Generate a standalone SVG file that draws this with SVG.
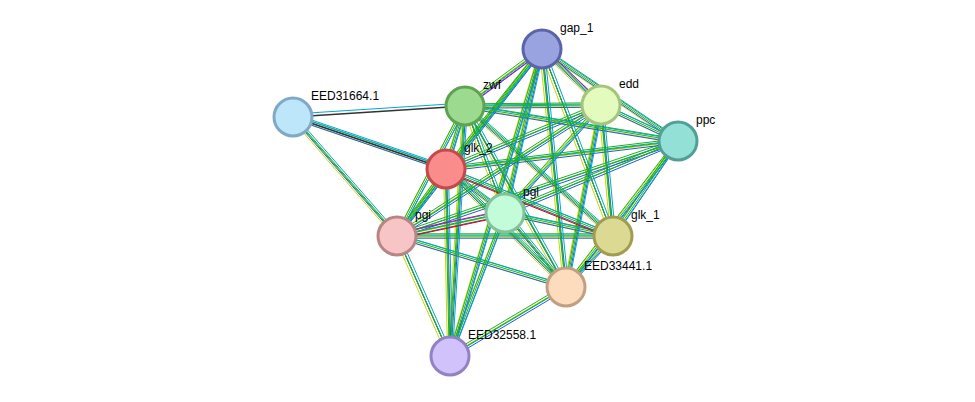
<svg xmlns="http://www.w3.org/2000/svg" xmlns:xlink="http://www.w3.org/1999/xlink" width="975" height="402" viewBox="0 0 975 402">
<style>
.n{stroke-width:3}
.t{font-family:"Liberation Sans",Arial,sans-serif;font-size:12px;fill:#000}
#E path{fill:none}
</style>
<rect width="975" height="402" fill="#fff"/>
<defs>
<g id="E">
<path d="M542 49L465 106M542 49L601 105M542 49L446 169M542 49L505 213M542 49L397 236M542 49L613 236M542 49L566 287M542 49L450 356M542 49L678 141"/>
<path d="M601 105L465 106M601 105L678 141M601 105L446 169M601 105L505 213M601 105L397 236M601 105L613 236M601 105L566 287"/>
<path d="M465 106L446 169M465 106L505 213M465 106L397 236M465 106L613 236M465 106L566 287M465 106L450 356M465 106L678 141"/>
<path d="M678 141L446 169M678 141L505 213M678 141L613 236M678 141L566 287M678 141L397 236"/>
<path d="M293 117L446 169M293 117L397 236"/>
<path d="M446 169L505 213M446 169L397 236M446 169L613 236M446 169L566 287M446 169L450 356"/>
<path d="M505 213L397 236M505 213L613 236M505 213L566 287M505 213L450 356"/>
<path d="M397 236L613 236M397 236L566 287M397 236L450 356M613 236L566 287M566 287L450 356"/>
</g>
</defs>
<g id="connectors" stroke-width="1">
<use xlink:href="#E" stroke="#c8d800" transform="translate(-2.4,1)"/>
<use xlink:href="#E" stroke="#20b020" transform="translate(-0.8,-2.2)"/>
<use xlink:href="#E" stroke="#1e5adc" transform="translate(0.8,2.2)"/>
<use xlink:href="#E" stroke="#00a8c8" transform="translate(2.4,-1)"/>
<use xlink:href="#E" stroke="#20b020" transform="translate(0,0)"/>
<path d="M293 117L465 106" stroke="#333" fill="none" stroke-width="1.4"/>
<path d="M293 114L465 103" stroke="#00a8d0" fill="none" stroke-width="1.2"/>
<path d="M293 117L446 169" stroke="#333" fill="none" stroke-width="1.4"/>
<path d="M294 114L447 166" stroke="#00a8d0" fill="none"/>
<path d="M542 49L601 105M542 49L465 106" stroke="#c800c8" fill="none" transform="translate(3,0)"/>
<path d="M446 169L613 236M397 236L505 213" stroke="#e00000" fill="none" transform="translate(0,3)"/>
<path d="M397 236L505 213" stroke="#c800c8" fill="none" transform="translate(0,-3)"/>
</g>
<g id="gap_1"><circle class="n" cx="542" cy="49" r="19" fill="#99a3e0" stroke="#5a64a8"/><text class="t" x="560" y="32">gap_1</text></g>
<g id="edd"><circle class="n" cx="601" cy="105" r="19" fill="#e3fcbd" stroke="#a7c47f"/><text class="t" x="619" y="88">edd</text></g>
<g id="zwf"><circle class="n" cx="465" cy="106" r="19" fill="#9cdb8f" stroke="#5ea352"/><text class="t" x="483" y="89">zwf</text></g>
<g id="ppc"><circle class="n" cx="678" cy="141" r="19" fill="#93e0d6" stroke="#52a095"/><text class="t" x="696" y="124">ppc</text></g>
<g id="EED31664.1"><circle class="n" cx="293" cy="117" r="19" fill="#bde6fb" stroke="#7fa9c4"/><text class="t" x="311" y="100">EED31664.1</text></g>
<g id="glk_2"><circle class="n" cx="446" cy="169" r="19" fill="#fa8c8c" stroke="#c44a4a"/><text class="t" x="464" y="152">glk_2</text></g>
<g id="pgl"><circle class="n" cx="505" cy="213" r="19" fill="#c2fcd9" stroke="#83c29b"/><text class="t" x="523" y="196">pgl</text></g>
<g id="pgi"><circle class="n" cx="397" cy="236" r="19" fill="#f7c5c5" stroke="#b88585"/><text class="t" x="415" y="219">pgi</text></g>
<g id="glk_1"><circle class="n" cx="613" cy="236" r="19" fill="#dcd993" stroke="#a09d52"/><text class="t" x="631" y="219">glk_1</text></g>
<g id="EED33441.1"><circle class="n" cx="566" cy="287" r="19" fill="#fcdcbd" stroke="#c0a080"/><text class="t" x="584" y="270">EED33441.1</text></g>
<g id="EED32558.1"><circle class="n" cx="450" cy="356" r="19" fill="#d2c2fc" stroke="#9382c2"/><text class="t" x="468" y="339">EED32558.1</text></g>
</svg>
